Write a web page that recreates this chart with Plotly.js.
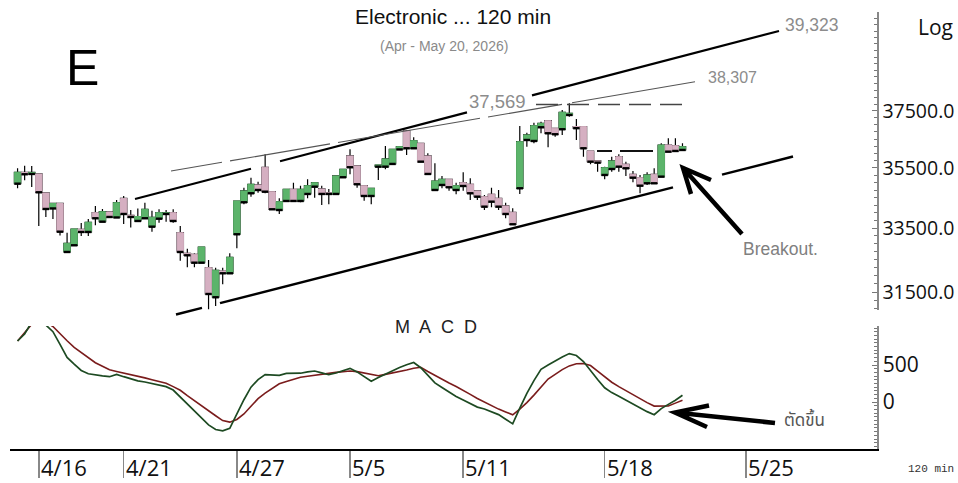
<!DOCTYPE html>
<html><head><meta charset="utf-8">
<script src="https://cdn.plot.ly/plotly-3.0.1.min.js"></script>
<style>html,body{margin:0;padding:0;background:#fff}#chart{width:958px;height:483px}</style>
</head><body><div id="chart"></div>
<script>
// ---- data (120-min bars, Apr 15 - May 20) ----
const openP = [34965,35344,35293,35293,34653,34140,34305,32739,32951,33463,33376,34002,33708,34025,33845,34470,33917,33731,33819,33547,33806,33959,34002,33353,32698,32667,32403,32248,31342,32145,32074,33302,34344,34643,34921,35522,34696,34090,34387,34777,34387,34620,34864,34787,34663,34620,35181,35910,35566,34897,34553,35542,35542,35635,36136,36785,36177,36352,35910,34753,34921,35113,34753,34998,34945,34720,34530,34610,34476,34222,34015,34810,36467,36432,36916,37151,36881,36846,37356,36941,36941,36083,35738,35259,35463,35886,35625,35283,35167,34978,35283,35202,36292,36268,36118];
const highP = [35487,35576,35566,35310,34670,34321,34321,33353,33472,33666,33796,34222,34123,34041,34420,34553,34090,34140,34331,34067,34113,34090,34113,33569,32843,32698,32897,32487,32248,32248,32698,34387,34830,35167,35032,35969,34703,34477,34787,34998,34897,35113,35005,34897,34787,35225,35463,36142,35566,34904,34820,35600,36258,36153,36240,36820,36562,36362,36004,35659,35225,35123,34998,35351,35147,34730,34586,34830,34753,34331,34146,36962,36725,37080,37116,37158,36891,37536,37779,37212,36948,36083,35748,35542,35886,35969,35714,35395,35259,35351,35487,36352,36527,36527,36352];
const lowP = [34810,35079,34854,33569,33861,33796,33263,32723,32945,33247,33247,33592,33698,33829,33838,33634,33521,33715,33812,33385,33676,33708,33676,32465,32260,32260,32403,30981,31080,31736,32068,32856,34278,34530,34663,34643,34107,33959,34370,34370,34344,34476,34496,34255,34278,34620,35174,35283,34830,34397,34278,35089,35453,35635,36118,35945,36153,35703,35276,34736,34810,34730,34610,34730,34420,34420,34090,34179,34090,33819,33602,34620,36230,36352,36704,36212,36584,36644,37295,36467,35886,35624,35371,35113,35371,35371,35225,35012,34643,34921,34971,35191,36049,36076,36111];
const closeP = [35351,35283,35344,34676,34123,34305,33385,33014,33472,33376,33689,33819,34034,33861,34331,33959,33861,33877,34113,33851,34002,34002,33731,32739,32635,32403,32897,31441,32167,32074,32572,34387,34720,34945,34753,34696,34113,34364,34777,34387,34777,34897,34998,34620,34620,35225,35453,35522,34945,34553,34810,35600,35807,36142,36233,36177,36443,35714,35293,35055,35113,34844,34897,34887,34643,34530,34199,34364,34199,33959,33624,36408,36644,36973,37056,36704,36669,37453,37417,36884,36177,35714,35680,35508,35738,35542,35487,35167,34897,35259,34978,36292,36059,36083,36233];
const macdLine = [824,919,1080,1130,1040,950,778,603,511,426,382,365,354,342,374,342,309,286,270,250,230,208,162,68,-22,-111,-201,-309,-372,-389,-355,-154,31,200,303,370,367,361,386,388,389,407,419,393,369,392,424,455,407,339,281,331,378,423,467,503,534,463,355,259,196,132,74,27,-22,-69,-95,-128,-170,-232,-295,-84,118,289,442,499,557,607,654,628,547,421,305,192,127,78,27,-30,-86,-130,-172,-89,-32,24,92];
const signalLine = [824,932,1050,1090,1080,1020,920,828,738,666,594,531,482,435,413,393,373,350,326,302,278,254,208,159,86,15,-55,-120,-186,-251,-272,-236,-162,-58,46,119,182,247,278,307,335,347,361,374,393,400,409,419,411,389,367,355,373,390,408,432,457,470,413,359,305,257,209,159,103,47,-4,-51,-96,-135,-173,-96,-9,93,208,311,374,438,488,516,520,493,417,343,267,208,153,99,45,-8,-55,-59,-54,-15,23];
const dateTickBar = [3,15,31,47,63,83,103];
const dateTickText = ['4/16','4/21','4/27','5/5','5/11','5/18','5/25'];
const priceTicks = [31500,33500,35500,37500];
const priceTickText = ['31500.0','33500.0','35500.0','37500.0'];
const macdTicks = [0,500];
const macdTickText = ['0','500'];

// ---- derived ----
const bars = openP.map((_, i) => i);
const bodyTop = openP.map((o, i) => Math.max(o, closeP[i]));
const bodyBot = openP.map((o, i) => Math.min(o, closeP[i]));

const GREEN = '#5cb46b', PINK = '#d5afc1';

// pixel -> paper helpers for drawn annotations
const PL = 10, PR = 877, PT = 12, PB = 449;
const px = x => (x - PL) / (PR - PL);
const py = y => (PB - y) / (PB - PT);

const traces = [
  { // wicks (black), body covered by next trace
    type: 'candlestick', x: bars, open: openP, high: highP, low: lowP, close: closeP,
    increasing: {line: {color: '#000', width: 1.2}, fillcolor: '#000'},
    decreasing: {line: {color: '#000', width: 1.2}, fillcolor: '#000'},
    hoverinfo: 'skip', xaxis: 'x', yaxis: 'y'
  },
  { // coloured bodies
    type: 'candlestick', x: bars, open: openP, high: bodyTop, low: bodyBot, close: closeP,
    increasing: {line: {color: GREEN, width: 1}, fillcolor: GREEN},
    decreasing: {line: {color: PINK, width: 1}, fillcolor: PINK},
    hoverinfo: 'skip', xaxis: 'x', yaxis: 'y'
  },
  { // black mark at body bottom
    type: 'scatter', mode: 'markers', x: bars, y: bodyBot,
    marker: {symbol: 'line-ew', size: 4.6, line: {color: '#000', width: 2.4}},
    hoverinfo: 'skip', xaxis: 'x', yaxis: 'y'
  },
  {
    type: 'scatter', mode: 'lines', x: bars, y: signalLine,
    line: {color: '#7a1c1c', width: 1.6}, hoverinfo: 'skip', xaxis: 'x', yaxis: 'y2'
  },
  {
    type: 'scatter', mode: 'lines', x: bars, y: macdLine,
    line: {color: '#1d4a22', width: 1.7}, hoverinfo: 'skip', xaxis: 'x', yaxis: 'y2'
  }
];

// axis decoration tick sets
const priceMinor = []; for (let v = 31000; v <= 41000; v += 250) priceMinor.push(v);
const priceLeft = []; for (let v = 31000; v <= 41200; v += 200) priceLeft.push(v);
const macdLeft = []; for (let v = -600; v <= 1000; v += 50) macdLeft.push(v);

const priceRange = [Math.log10(30960), Math.log10(41250)];
const macdRange = [-635, 1027];

function seg(x0, y0, x1, y1, color, width, dash) {
  return {type: 'line', xref: 'paper', yref: 'paper', x0: px(x0), y0: py(y0), x1: px(x1), y1: py(y1),
          line: {color: color, width: width, dash: dash || 'solid'}};
}
function path(pts, color, width) {
  let d = '';
  pts.forEach(p => { d += (p[0] ? 'M' : 'L') + ' ' + px(p[1]) + ',' + py(p[2]) + ' '; });
  return {type: 'path', xref: 'paper', yref: 'paper', path: d.trim(), line: {color: color, width: width}};
}

const shapes = [
  // upper channel (thick)
  seg(135,199,251,168.7,'#000',2.2), seg(280,161.2,467,112.4,'#000',2.2), seg(532,95.4,779,31,'#000',2.2),
  // thin resistance line
  seg(171,171,222,162.3,'#555',1.1), seg(230,160.9,330,143.9,'#555',1.1), seg(338,142.5,480,118.3,'#555',1.1),
  seg(488,117,562,104.4,'#555',1.1), seg(572,102.7,695,81.7,'#555',1.1),
  // dashed high level
  seg(536,104.5,686,104.5,'#444',1.3,'22px,9px'),
  // short dashed level
  seg(597,151,612,151,'#111',2), seg(620,151,653,151,'#111',2),
  // lower channel (thick)
  seg(176,314.5,202,307.9,'#000',2.4), seg(220,303.2,673,187.3,'#000',2.4), seg(722,174.7,793,156.5,'#000',2.4),
  // arrows
  path([[1,742,234],[0,683,168],[1,691,194],[0,683,168],[0,711,180]], '#000', 4.5),
  path([[1,775,423],[0,675,412.5],[1,709,405.5],[0,675,412.5],[0,707,427]], '#000', 4.5)
];

function txt(t, x, y, size, color, family, extra) {
  return Object.assign({text: t, xref: 'paper', yref: 'paper', x: px(x), y: py(y), showarrow: false,
    xanchor: 'center', yanchor: 'middle', font: {size: size, color: color, family: family || 'Liberation Sans, Arial, sans-serif'}}, extra || {});
}

const annotations = [
  txt('E', 82, 68, 50, '#000'),
  txt('Electronic ... 120 min', 453, 17, 21, '#111'),
  txt('(Apr - May 20, 2026)', 444, 46, 14, '#8a8a8a'),
  txt('39,323', 812, 25, 17.5, '#8c8c8c'),
  txt('38,307', 732, 78, 16, '#8c8c8c'),
  txt('37,569', 497, 101, 18.5, '#8c8c8c'),
  txt('Log', 935, 27, 21, '#111', 'Open Sans, sans-serif'),
  txt('Breakout.', 780, 249, 17.5, '#808080'),
  txt('M&nbsp; A&nbsp; C&nbsp; D', 436, 327, 18, '#222'),
  txt('ตัดขึ้น', 804, 421, 17, '#555', 'Noto Sans Thai, Tahoma, sans-serif'),
  txt('120 min', 931, 469, 11, '#333', 'Liberation Mono, Courier New, monospace')
];
dateTickBar.forEach((b, i) => {
  annotations.push({text: dateTickText[i], xref: 'x', yref: 'paper', x: b, y: py(467), xshift: 0,
    xanchor: 'left', yanchor: 'middle', showarrow: false,
    font: {size: 22, color: '#111', family: 'Open Sans, sans-serif'}});
});

const layout = {
  width: 958, height: 483,
  margin: {l: PL, r: 958 - PR, t: PT, b: 483 - PB},
  paper_bgcolor: '#fff', plot_bgcolor: '#fff',
  showlegend: false, hovermode: false,
  boxgap: 0.1, boxgroupgap: 0,
  font: {family: 'Open Sans, sans-serif', color: '#111'},
  xaxis: {
    range: [-1.07, 121.5], anchor: 'y2', showline: true, linecolor: '#000', linewidth: 1.5,
    ticks: 'outside', ticklen: 27, tickwidth: 1.5, tickcolor: '#888',
    tickmode: 'array', tickvals: dateTickBar, showticklabels: false,
    showgrid: false, zeroline: false, rangeslider: {visible: false}
  },
  yaxis: {
    domain: [(PB - 310) / (PB - PT), 1], type: 'log', range: priceRange,
    side: 'right', anchor: 'x', showline: true, linecolor: '#888', linewidth: 1.5,
    ticks: 'inside', ticklen: 5, tickcolor: '#777', tickwidth: 1,
    tickmode: 'array', tickvals: priceTicks, ticktext: priceTickText,
    tickfont: {size: 19.5, family: 'Open Sans, sans-serif', color: '#111'},
    minor: {tickmode: 'array', tickvals: priceMinor, ticks: 'inside', ticklen: 3, tickcolor: '#777', showgrid: false},
    showgrid: false, zeroline: false
  },
  yaxis2: {
    domain: [0, (PB - 326) / (PB - PT)], range: macdRange,
    side: 'right', anchor: 'x', showline: true, linecolor: '#888', linewidth: 1.5,
    ticks: 'inside', ticklen: 5, tickcolor: '#777',
    tickmode: 'array', tickvals: macdTicks, ticktext: macdTickText,
    tickfont: {size: 21, family: 'Open Sans, sans-serif', color: '#111'},
    minor: {dtick: 50, tick0: 0, ticks: 'inside', ticklen: 3, tickcolor: '#777', showgrid: false},
    showgrid: false, zeroline: false
  },
  yaxis3: {
    overlaying: 'y', side: 'left', anchor: 'x', type: 'log', range: priceRange,
    showline: false, ticks: 'inside', ticklen: 2, tickcolor: '#666', tickwidth: 1,
    tickmode: 'array', tickvals: priceLeft, showticklabels: false, showgrid: false, zeroline: false
  },
  yaxis4: {
    overlaying: 'y2', side: 'left', anchor: 'x', range: macdRange,
    showline: false, ticks: 'inside', ticklen: 2, tickcolor: '#666', tickwidth: 1,
    tickmode: 'array', tickvals: macdLeft, showticklabels: false, showgrid: false, zeroline: false
  },
  shapes: shapes,
  annotations: annotations
};

Plotly.newPlot('chart', traces, layout, {staticPlot: true, displayModeBar: false});
</script>
</body></html>
